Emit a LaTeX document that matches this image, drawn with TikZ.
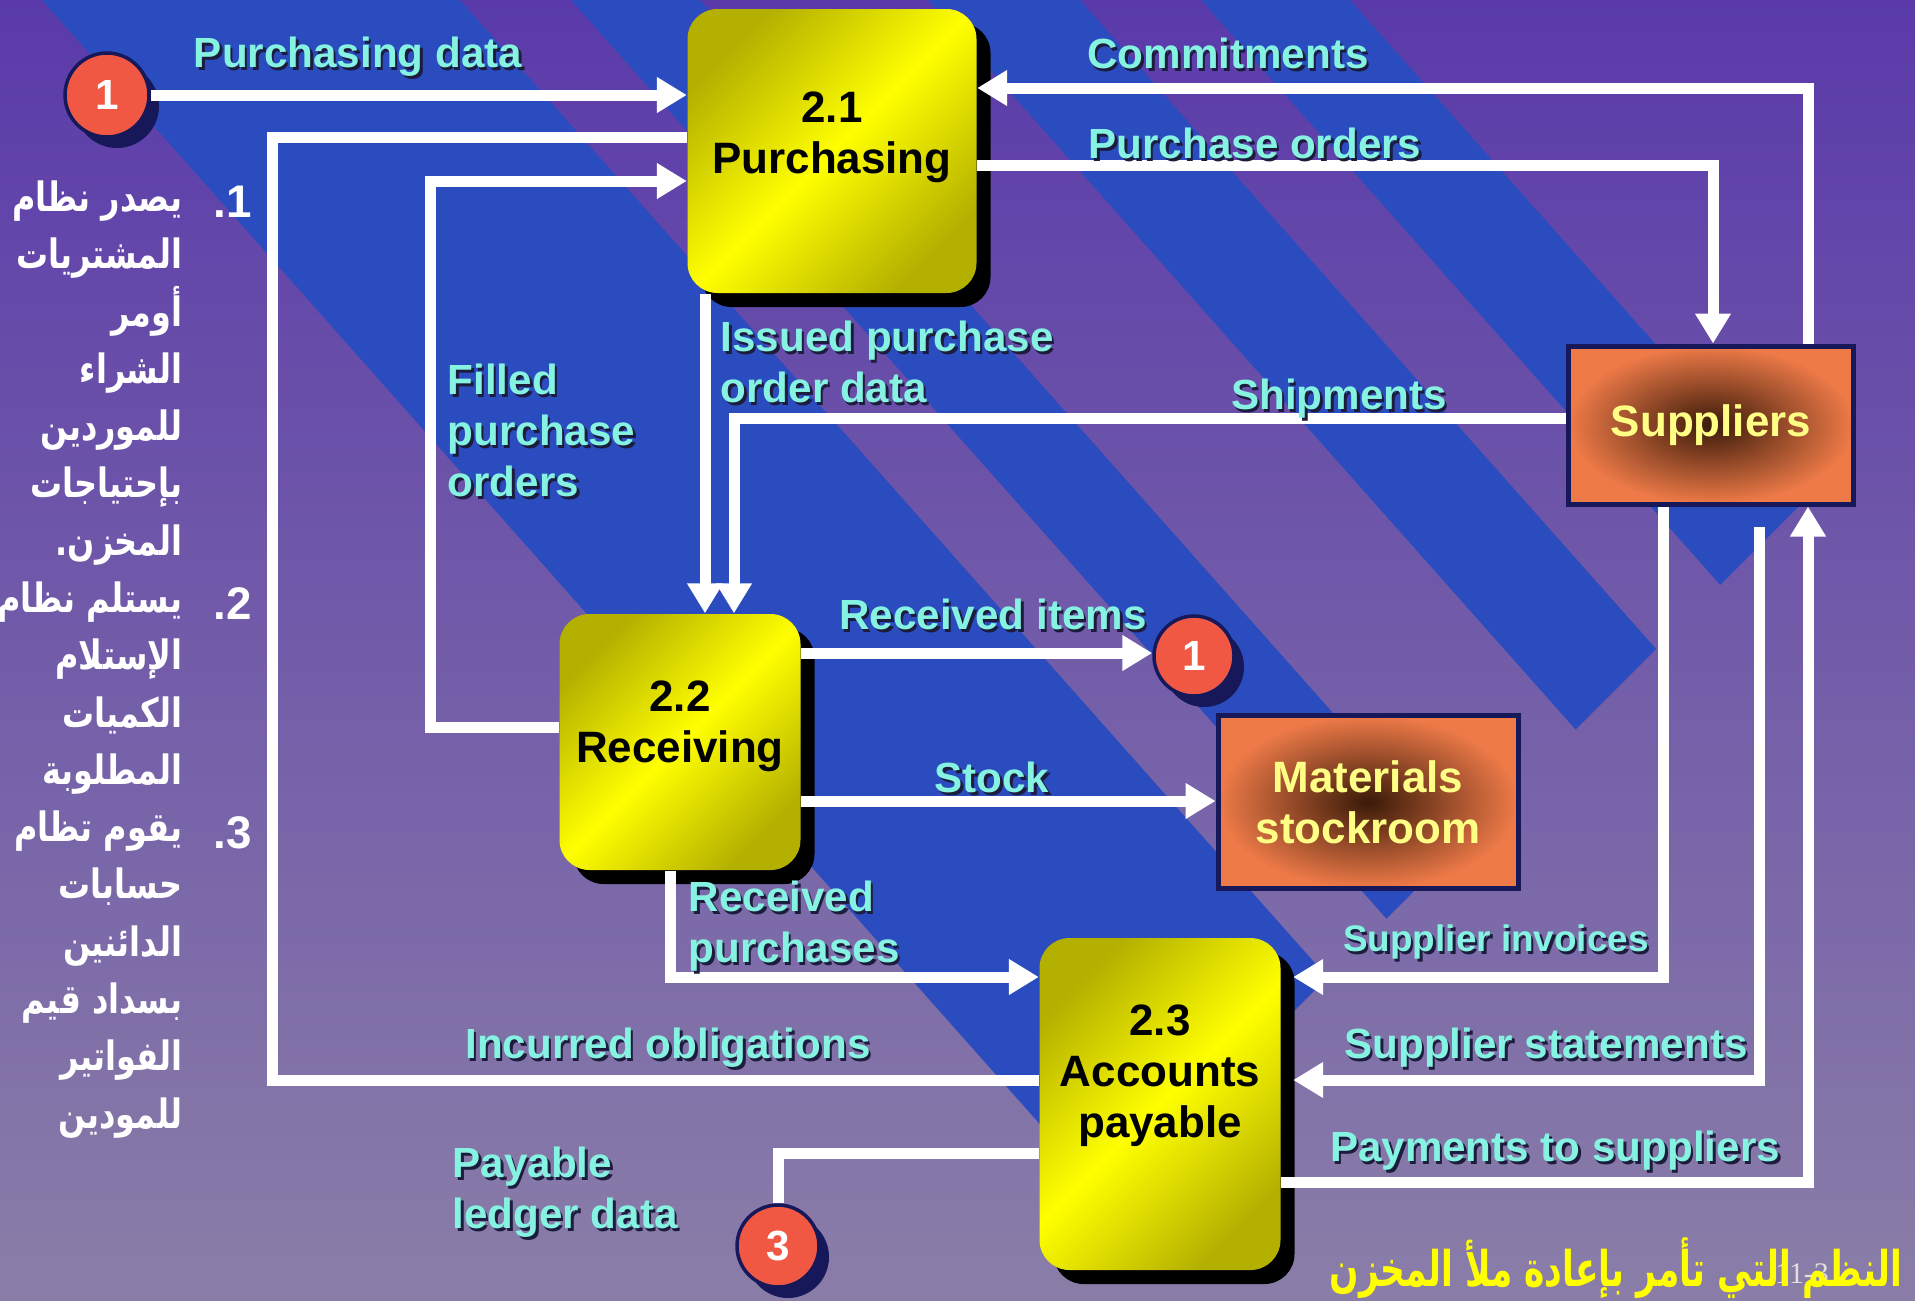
\documentclass[tikz,border=0pt]{standalone}
\usepackage{fontspec}
\setmainfont{Liberation Sans}
\newfontfamily\arabicfont[Script=Arabic, FakeStretch=0.79]{DejaVu Sans}
\newfontfamily\titlefont[Script=Arabic, FakeStretch=0.7]{DejaVu Sans}
\newfontfamily\slidefont{Liberation Serif}
\TeXXeTstate=1
\usetikzlibrary{arrows.meta, positioning, shadows}
\definecolor{bgtop}{HTML}{5A3AAA}
\definecolor{bgbot}{HTML}{8A7EA8}
\definecolor{stripeblue}{HTML}{2A4CBE}
\definecolor{boxlight}{HTML}{FFFF00}
\definecolor{boxdark}{HTML}{B4B000}
\definecolor{entorange}{HTML}{EE7A48}
\definecolor{entbrown}{HTML}{3A1A08}
\definecolor{navyline}{HTML}{16185A}
\definecolor{storered}{HTML}{F05844}
\definecolor{lblcyan}{HTML}{86F2E2}
\definecolor{lblshade}{HTML}{1C1C3C}
\definecolor{titleyellow}{HTML}{FFFF00}
\definecolor{entyellow}{HTML}{FFFF86}

\tikzset{
  process/.style={rounded corners=3mm, inner sep=0,
    top color=boxdark, bottom color=boxdark, middle color=boxlight, shading angle=45,
    drop shadow={shadow xshift=1.4mm, shadow yshift=-1.4mm, fill=black, opacity=1}},
  proctext/.style={align=center, inner sep=0, font=\bfseries\fontsize{12.5}{14.5}\selectfont},
  entity/.style={draw=navyline, line width=0.5mm, inner color=entbrown, outer color=entorange,
    text=entyellow, align=center, font=\bfseries\fontsize{12.5}{14.5}\selectfont},
  store/.style={circle, fill=storered, draw=navyline, line width=0.35mm, inner sep=0,
    minimum size=8.4mm, text=white, font=\bfseries\fontsize{12}{14}\selectfont,
    drop shadow={shadow xshift=1mm, shadow yshift=-1.1mm, fill=navyline, opacity=1}},
  flow/.style={draw=white, line width=1.1mm, -{Triangle[width=3.4mm, length=3mm]}},
  flowline/.style={draw=white, line width=1.1mm},
  lbl/.style={text=lblcyan, inner sep=0, font=\bfseries\fontsize{12}{14.5}\selectfont},
  lblshadow/.style={lbl, text=lblshade},
  artext/.style={text=white, align=right, inner sep=0,
    font=\arabicfont\bfseries\fontsize{11.5}{16.3}\selectfont},
  stepnum/.style={text=white, inner sep=0, font=\bfseries\fontsize{13}{15}\selectfont}
}
% cyan flow label with its dark drop shadow
\newcommand\flowlabel[4][]{%
  \node[lblshadow,#1] at ([shift={(0.25mm,-0.3mm)}]#3) {#4};
  \node[lbl,#1] (#2) at (#3) {#4};}

\begin{document}
\begin{tikzpicture}[x=0.1mm, y=-0.1mm]
  \useasboundingbox (0,0) rectangle (1915,1300);
  % background and diagonal stripes
  \shade[top color=bgtop, bottom color=bgbot] (0,0) rectangle (1915,1300);
  \begin{scope}
    \clip (0,0) -- (1915,0) -- (1915,390) -- (1005,1300) -- (0,1300) -- cycle;
    \foreach \a/\b in {42/460, 571/700, 928/1080, 1201/1350}
      \fill[stripeblue] (\a,0) -- (\b,0) -- (\b+1154,1300) -- (\a+1154,1300) -- cycle;
  \end{scope}

  % processes
  \node[process, minimum width=28.9mm, minimum height=28.4mm] (p21) at (832,151) {};
  \node[proctext] (p21t) at ([yshift=1.4mm]p21.center) {2.1\\Purchasing};
  \node[process, minimum width=24.1mm, minimum height=25.6mm] (p22) at (680,742) {};
  \node[proctext] (p22t) at ([yshift=1.6mm]p22.center) {2.2\\Receiving};
  \node[process, minimum width=24.1mm, minimum height=33.2mm] (p23) at (1160,1104) {};
  \node[proctext] (p23t) at ([yshift=2.8mm]p23.center) {2.3\\Accounts\\payable};

  % external entities
  \node[entity, minimum width=28.5mm, minimum height=15.8mm] (sup) at (1711,425) {Suppliers};
  \node[entity, minimum width=30mm, minimum height=17.3mm] (ms) at (1368,802) {Materials\\stockroom};

  % data stores
  \node[store] (s1) at (107,95) {1};
  \node[store, minimum size=8mm] (s1b) at (1194,656) {1};
  \node[store, minimum size=8.2mm] (s3) at (778,1246) {3};

  % bends of the long flows on the left
  \coordinate (ioBend) at (272,137);
  \coordinate (fpBend) at (430,181);

  % data flows
  \draw[flow] (s1.east) -- (s1.east -| p21.west);
  \draw[flow] ([xshift=9.7mm]sup.north) |- ([yshift=6.3mm]p21.east);
  \draw[flow] ([yshift=-1.4mm]p21.east) -| ([xshift=0.2mm]sup.north);
  \draw[flowline] ([yshift=2.4mm]p23.west) -| (ioBend) -- (ioBend -| p21.west);
  \draw[flow] ([yshift=1.5mm]p22.west) -| (fpBend) -- (fpBend -| p21.west);
  \draw[flow] ([xshift=-12.7mm]p21.south) -- ([xshift=-12.7mm]p21.south |- p22.north);
  \draw[flow] ([yshift=0.7mm]sup.west) -| ([xshift=5.4mm]p22.north);
  \draw[flow] ([yshift=8.9mm]p22.east) -- ([yshift=8.9mm]p22.east -| s1b.west);
  \draw[flow] ([yshift=-5.9mm]p22.east) -- ([yshift=-5.9mm]p22.east -| ms.west);
  \draw[flow] ([xshift=-1mm]p22.south) |- ([yshift=12.7mm]p23.west);
  \draw[flow] ([xshift=-4.8mm]sup.south) |- ([xshift=1.2mm, yshift=12.7mm]p23.east);
  \draw[flow] ([xshift=4.8mm, yshift=-2mm]sup.south) |- ([xshift=1.2mm, yshift=2.4mm]p23.east);
  \draw[flow] ([yshift=-7.8mm]p23.east) -| ([xshift=9.7mm]sup.south);
  \draw[flowline] ([yshift=-4.9mm]p23.west) -| (s3.north);

  % flow labels
  \flowlabel{lPD}{358,57}{Purchasing data}
  \flowlabel{lCM}{1228,53}{Commitments}
  \flowlabel{lPO}{1255,143}{Purchase orders}
  \flowlabel[align=left, anchor=west]{lIPO}{720,362}{Issued purchase\\order data}
  \flowlabel[align=left, anchor=west]{lFPO}{447,430}{Filled\\purchase\\orders}
  \flowlabel{lSH}{1339,399}{Shipments}
  \flowlabel{lRI}{993,614}{Received items}
  \flowlabel{lST}{992,777}{Stock}
  \flowlabel[align=left, anchor=west]{lRP}{688,926}{Received\\purchases}
  \flowlabel[font=\bfseries\fontsize{10.5}{13}\selectfont]{lSI}{1496,942}{Supplier invoices}
  \flowlabel{lSS}{1546,1048}{Supplier statements}
  \flowlabel{lPS}{1555,1151}{Payments to suppliers}
  \flowlabel{lIO}{668,1048}{Incurred obligations}
  \flowlabel[align=left, anchor=west]{lPL}{452,1192}{Payable\\ledger data}

  % numbered notes on the left
  \node[artext, anchor=north east] (notes) at (183,180) {%
    \beginR يصدر نظام\endR\\
    \beginR المشتريات\endR\\
    \beginR أومر\endR\\
    \beginR الشراء\endR\\
    \beginR للموردين\endR\\
    \beginR بإحتياجات\endR\\
    \beginR المخزن.\endR\\
    \beginR يستلم نظام\endR\\
    \beginR الإستلام\endR\\
    \beginR الكميات\endR\\
    \beginR المطلوبة\endR\\
    \beginR يقوم تظام\endR\\
    \beginR حسابات\endR\\
    \beginR الدائنين\endR\\
    \beginR بسداد قيم\endR\\
    \beginR الفواتير\endR\\
    \beginR للمودين\endR};
  \node[stepnum] (n1) at (233,202) {.1};
  \node[stepnum] (n2) at (233,604) {.2};
  \node[stepnum] (n3) at (233,833) {.3};

  % slide number and title
  \node[text=gray!25, inner sep=0, font=\slidefont\fontsize{8.5}{10}\selectfont] (slideno) at (1802,1274) {11-3};
  \node[text=titleyellow, inner sep=0, font=\titlefont\bfseries\fontsize{14}{17}\selectfont] (title) at (1616,1268)
    {\beginR النظم التي تأمر بإعادة ملأ المخزن\endR};
\end{tikzpicture}
\end{document}
